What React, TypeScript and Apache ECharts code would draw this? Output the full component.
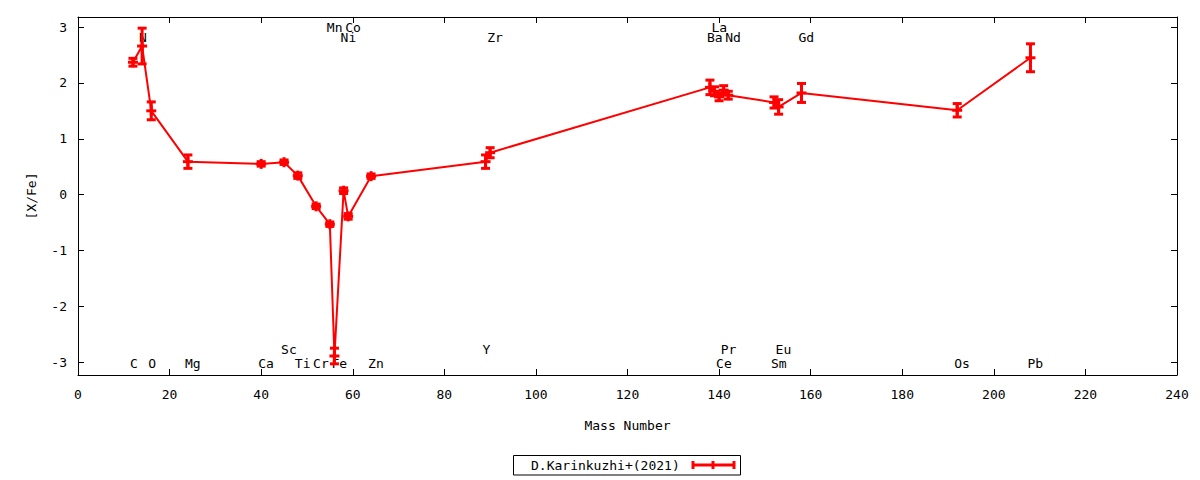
import React, { useEffect, useRef } from "react";
import * as echarts from "echarts";

const elements = ["C","N","O","Mg","Ca","Sc","Ti","Cr","Mn","Fe","Ni","Co","Zn","Y","Zr","Ba","La","Ce","Pr","Nd","Sm","Eu","Gd","Os","Pb"];
const massNumbers = [12,14,16,24,40,45,48,52,55,56,58,59,64,89,90,138,139,140,141,142,152,153,158,192,208];
const xFe = [2.37,2.66,1.50,0.59,0.55,0.58,0.34,-0.21,-0.53,-2.89,0.07,-0.39,0.33,0.59,0.75,1.92,1.85,1.75,1.87,1.78,1.65,1.57,1.82,1.51,2.45];
const xFeErr = [0.07,0.32,0.16,0.12,0.04,0.04,0.05,0.04,0.04,0.14,0.05,0.05,0.04,0.12,0.09,0.13,0.08,0.07,0.08,0.07,0.10,0.13,0.17,0.12,0.25];
const labelY = [-3.03,2.81,-3.03,-3.03,-3.03,-2.77,-3.03,-3.03,3.0,-3.03,2.81,3.0,-3.03,-2.77,2.81,2.81,3.0,-3.03,-2.77,2.81,-3.03,-2.77,2.81,-3.03,-3.03];
const yTicks = [-3,-2,-1,0,1,2,3];
const legendName = "D.Karinkuzhi+(2021)";

const FONT = '"DejaVu Sans Mono", monospace';
const RED = "#ff0000";

export default function App() {
  const ref = useRef<HTMLDivElement>(null);
  useEffect(() => {
    document.body.style.margin = "0";
    const chart = echarts.init(ref.current!, null, { renderer: "svg" });
    const axisCommon = {
      axisLine: { show: true, onZero: false, lineStyle: { color: "#000", width: 1 } },
      splitLine: { show: false },
    };
    chart.setOption({
      animation: false,
      backgroundColor: "#fff",
      grid: { left: 78, right: 23, top: 17, bottom: 105 },
      xAxis: [
        {
          type: "value", min: 0, max: 240, interval: 20, position: "bottom",
          ...axisCommon,
          axisTick: { show: true, inside: true, length: 6, lineStyle: { color: "#000" } },
          axisLabel: { color: "#000", fontFamily: FONT, fontSize: 13, margin: 13 },
          name: "Mass Number", nameLocation: "middle", nameGap: 44,
          nameTextStyle: { color: "#000", fontFamily: FONT, fontSize: 13 },
        },
        {
          type: "value", min: 0, max: 240, interval: 20, position: "top",
          ...axisCommon,
          axisTick: { show: true, inside: true, length: 6, lineStyle: { color: "#000" } },
          axisLabel: { show: false },
        },
      ],
      yAxis: [
        {
          type: "value", min: -3.23, max: 3.18, position: "left",
          ...axisCommon,
          axisTick: { show: true, inside: true, length: 6, customValues: yTicks, lineStyle: { color: "#000" } },
          axisLabel: { color: "#000", fontFamily: FONT, fontSize: 13, margin: 11, customValues: yTicks },
          name: "[X/Fe]", nameLocation: "middle", nameGap: 40, nameRotate: 90,
          nameTextStyle: { color: "#000", fontFamily: FONT, fontSize: 13 },
        },
        {
          type: "value", min: -3.23, max: 3.18, position: "right",
          ...axisCommon,
          axisTick: { show: true, inside: true, length: 6, customValues: yTicks, lineStyle: { color: "#000" } },
          axisLabel: { show: false, customValues: yTicks },
        },
      ],
      series: [
        {
          type: "custom",
          name: "labels",
          xAxisIndex: 0, yAxisIndex: 0,
          z: 1,
          clip: false,
          data: massNumbers.map((m, i) => [m, labelY[i]]),
          encode: { x: 0, y: 1 },
          renderItem: (params: any, api: any) => {
            const p = api.coord([api.value(0), api.value(1)]);
            return {
              type: "text",
              x: p[0] - 3,
              y: p[1],
              style: {
                text: elements[params.dataIndex],
                fill: "#000",
                fontFamily: FONT,
                fontSize: 13,
                align: "left",
                verticalAlign: "middle",
              },
            };
          },
        },
        {
          type: "line",
          name: legendName,
          xAxisIndex: 0, yAxisIndex: 0,
          z: 3,
          data: massNumbers.map((m, i) => [m, xFe[i]]),
          symbol: "none",
          lineStyle: { color: RED, width: 2 },
        },
        {
          type: "custom",
          name: "errors",
          xAxisIndex: 0, yAxisIndex: 0,
          z: 4,
          clip: false,
          data: massNumbers.map((m, i) => [m, xFe[i] - xFeErr[i], xFe[i] + xFeErr[i], xFe[i]]),
          encode: { x: 0, y: [1, 2, 3] },
          renderItem: (params: any, api: any) => {
            const x = api.value(0);
            const lo = api.coord([x, api.value(1)]);
            const hi = api.coord([x, api.value(2)]);
            const c = api.coord([x, api.value(3)]);
            const st = { stroke: RED, lineWidth: 3 };
            const cap = 4.5;
            const mk = 5;
            return {
              type: "group",
              children: [
                { type: "line", shape: { x1: lo[0], y1: lo[1], x2: hi[0], y2: hi[1] }, style: st },
                { type: "line", shape: { x1: lo[0] - cap, y1: lo[1], x2: lo[0] + cap, y2: lo[1] }, style: st },
                { type: "line", shape: { x1: hi[0] - cap, y1: hi[1], x2: hi[0] + cap, y2: hi[1] }, style: st },
                { type: "line", shape: { x1: c[0] - mk, y1: c[1], x2: c[0] + mk, y2: c[1] }, style: st },
                { type: "line", shape: { x1: c[0], y1: c[1] - mk, x2: c[0], y2: c[1] + mk }, style: st },
              ],
            };
          },
        },
      ],
      graphic: [
        {
          type: "rect",
          shape: { x: 513.5, y: 455.5, width: 227, height: 19.5 },
          style: { fill: "#fff", stroke: "#000", lineWidth: 1 },
        },
        {
          type: "text",
          x: 531, y: 465.5,
          style: { text: legendName, fill: "#000", fontFamily: FONT, fontSize: 13, align: "left", verticalAlign: "middle" },
        },
        { type: "line", shape: { x1: 692, y1: 465, x2: 735, y2: 465 }, style: { stroke: RED, lineWidth: 3 } },
        { type: "line", shape: { x1: 693, y1: 461, x2: 693, y2: 469 }, style: { stroke: RED, lineWidth: 3 } },
        { type: "line", shape: { x1: 713, y1: 461, x2: 713, y2: 469 }, style: { stroke: RED, lineWidth: 3 } },
        { type: "line", shape: { x1: 734, y1: 461, x2: 734, y2: 469 }, style: { stroke: RED, lineWidth: 3 } },
      ],
    });
    return () => chart.dispose();
  }, []);
  return <div ref={ref} style={{ width: 1200, height: 480 }} />;
}
